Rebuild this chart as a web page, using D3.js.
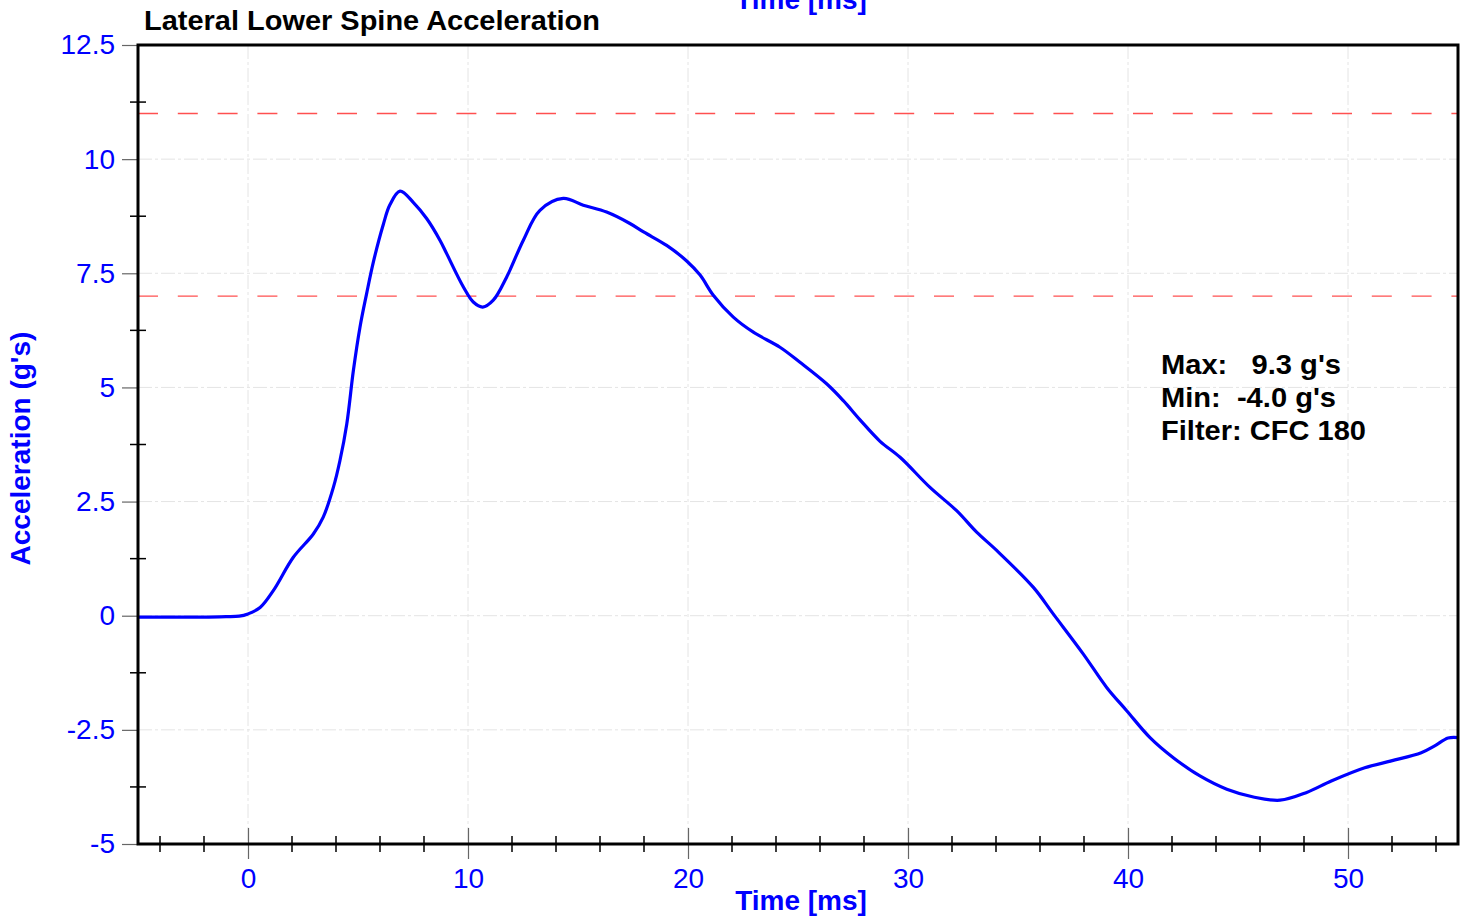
<!DOCTYPE html>
<html>
<head>
<meta charset="utf-8">
<script src="https://cdn.jsdelivr.net/npm/d3@7"></script>
<style>
  html, body { margin: 0; padding: 0; background: #fff; }
  svg { display: block; }
  text { font-family: "Liberation Sans", Arial, sans-serif; }
</style>
</head>
<body>
<svg id="chart" width="1465" height="920"></svg>
<script>
// ---- Data ----
const timeMs = [-5, -4, -3, -2, -1, -0.4, 0, 0.55, 1.15, 2.06, 2.97, 3.42, 3.88, 4.18, 4.49, 4.79, 5.09, 5.39, 5.7, 6.15, 6.45, 6.91, 7.52, 8.12, 8.73, 9.03, 9.79, 10.24, 10.67, 11.15, 11.76, 12.51, 13.27, 14.33, 15.24, 16.3, 17.36, 18.0, 19.03, 19.94, 20.55, 21.15, 22.06, 22.97, 24.18, 25.09, 26.3, 27.06, 27.82, 28.73, 29.64, 31.0, 32.21, 33.12, 34.03, 35.7, 36.6, 37.97, 39.03, 39.94, 41.0, 42.06, 43.27, 44.49, 45.7, 46.91, 48.12, 49.24, 50.76, 51.97, 53.33, 53.94, 54.55, 55.0];
const accelG = [-0.03, -0.03, -0.03, -0.03, -0.02, -0.01, 0.04, 0.18, 0.55, 1.28, 1.79, 2.16, 2.81, 3.4, 4.2, 5.37, 6.32, 7.05, 7.75, 8.57, 9.0, 9.3, 9.05, 8.7, 8.22, 7.93, 7.2, 6.87, 6.76, 6.91, 7.42, 8.22, 8.88, 9.14, 8.99, 8.84, 8.59, 8.4, 8.11, 7.77, 7.46, 7.02, 6.54, 6.21, 5.88, 5.55, 5.08, 4.71, 4.29, 3.82, 3.47, 2.81, 2.3, 1.83, 1.43, 0.62, 0.04, -0.84, -1.57, -2.08, -2.67, -3.11, -3.51, -3.8, -3.97, -4.04, -3.87, -3.62, -3.33, -3.18, -3.0, -2.85, -2.68, -2.67];
const limitLines = [11, 7];
const xMajorTicks = [0, 10, 20, 30, 40, 50];
const yMajorTicks = [-5, -2.5, 0, 2.5, 5, 7.5, 10, 12.5];
const yTickLabels = ["-5", "-2.5", "0", "2.5", "5", "7.5", "10", "12.5"];
const titleText = "Lateral Lower Spine Acceleration";
const xTitle = "Time [ms]";
const yTitle = "Acceleration (g's)";
const statLines = ["Max:   9.3 g's", "Min:  -4.0 g's", "Filter: CFC 180"];
const statWidths = [180, 175, 205];

// ---- Layout ----
const L = 138, R = 1458, T = 45, B = 844;
const svg = d3.select("#chart");
const x = d3.scaleLinear().domain([-5, 55]).range([L, R]);
const y = d3.scaleLinear().domain([-5, 12.5]).range([B, T]);
const blue = "#0000ff";

// gridlines
const grid = svg.append("g");
grid.selectAll("line.gx").data(xMajorTicks).join("line")
  .attr("x1", d => x(d)).attr("x2", d => x(d)).attr("y1", T).attr("y2", B)
  .attr("stroke", "#e4e4e4").attr("stroke-width", 1).attr("stroke-dasharray", "14,3,3,3");
grid.selectAll("line.gy").data(yMajorTicks.filter(d => d > -5 && d < 12.5)).join("line")
  .attr("x1", L).attr("x2", R).attr("y1", d => y(d)).attr("y2", d => y(d))
  .attr("stroke", "#e4e4e4").attr("stroke-width", 1).attr("stroke-dasharray", "14,3,3,3");

// limit lines
svg.append("g").selectAll("line").data(limitLines).join("line")
  .attr("x1", L).attr("x2", R).attr("y1", d => y(d)).attr("y2", d => y(d))
  .attr("stroke", "#ff5050").attr("stroke-width", 1.3).attr("stroke-dasharray", "20,19.8");

// clip
svg.append("clipPath").attr("id", "clip").append("rect")
  .attr("x", L).attr("y", T).attr("width", R - L).attr("height", B - T);

// curve
const pts = timeMs.map((t, i) => [t, accelG[i]]);
svg.append("path").datum(pts)
  .attr("clip-path", "url(#clip)")
  .attr("fill", "none").attr("stroke", blue).attr("stroke-width", 3.2)
  .attr("stroke-linejoin", "round")
  .attr("d", d3.line().x(d => x(d[0])).y(d => y(d[1])).curve(d3.curveCatmullRom.alpha(0.5)));

// Y axis ticks
const yMinor = d3.range(-5, 12.51, 1.25).filter(v => !yMajorTicks.includes(v));
const yAx = svg.append("g").attr("transform", `translate(${L},0)`);
yAx.call(d3.axisLeft(y).tickValues(yMajorTicks).tickSize(16).tickPadding(8)
  .tickFormat((d, i) => yTickLabels[i]));
yAx.select(".domain").remove();
yAx.selectAll(".tick line").attr("stroke", "#666").attr("stroke-width", 1.2);
yAx.selectAll(".tick text").attr("fill", blue).attr("font-size", 28)
  .attr("font-family", "Liberation Sans, Arial, sans-serif").attr("x", -23);
yAx.selectAll("line.minor").data(yMinor).join("line").attr("class", "minor")
  .attr("x1", -8).attr("x2", 8).attr("y1", d => y(d)).attr("y2", d => y(d))
  .attr("stroke", "#000").attr("stroke-width", 1.5);

// X axis ticks
const xMinor = d3.range(-4, 55, 2).filter(v => !xMajorTicks.includes(v));
const xAx = svg.append("g").attr("transform", `translate(0,${B})`);
xAx.call(d3.axisBottom(x).tickValues(xMajorTicks).tickSize(15).tickPadding(9));
xAx.select(".domain").remove();
xAx.selectAll(".tick line").attr("stroke", "#666").attr("stroke-width", 1.2).attr("y1", -16);
xAx.selectAll(".tick text").attr("fill", blue).attr("font-size", 28)
  .attr("font-family", "Liberation Sans, Arial, sans-serif");
xAx.selectAll("line.minor").data(xMinor).join("line").attr("class", "minor")
  .attr("x1", d => x(d)).attr("x2", d => x(d)).attr("y1", -8).attr("y2", 8)
  .attr("stroke", "#000").attr("stroke-width", 1.5);

// frame
svg.append("rect").attr("x", L).attr("y", T).attr("width", R - L).attr("height", B - T)
  .attr("fill", "none").attr("stroke", "#000").attr("stroke-width", 3);

// titles
svg.append("text").attr("x", 144).attr("y", 30).attr("font-size", 27).attr("font-weight", "bold")
  .attr("fill", "#000").attr("textLength", 456).attr("lengthAdjust", "spacingAndGlyphs").text(titleText);
svg.append("text").attr("x", 801).attr("y", 910).attr("text-anchor", "middle")
  .attr("font-size", 28).attr("font-weight", "bold").attr("fill", blue).text(xTitle);
svg.append("text").attr("x", 801).attr("y", 9).attr("text-anchor", "middle")
  .attr("font-size", 28).attr("font-weight", "bold").attr("fill", blue).text(xTitle);
svg.append("text").attr("transform", `translate(30,${(332 + 565) / 2}) rotate(-90)`)
  .attr("text-anchor", "middle").attr("font-size", 28).attr("font-weight", "bold")
  .attr("fill", blue).text(yTitle);

// stats annotation
svg.append("g").selectAll("text").data(statLines).join("text")
  .attr("x", 1161).attr("y", (d, i) => 374 + i * 33)
  .attr("font-size", 28).attr("font-weight", "bold").attr("fill", "#000")
  .attr("textLength", (d, i) => statWidths[i]).attr("lengthAdjust", "spacingAndGlyphs")
  .style("white-space", "pre").attr("xml:space", "preserve").text(d => d);
</script>
</body>
</html>
